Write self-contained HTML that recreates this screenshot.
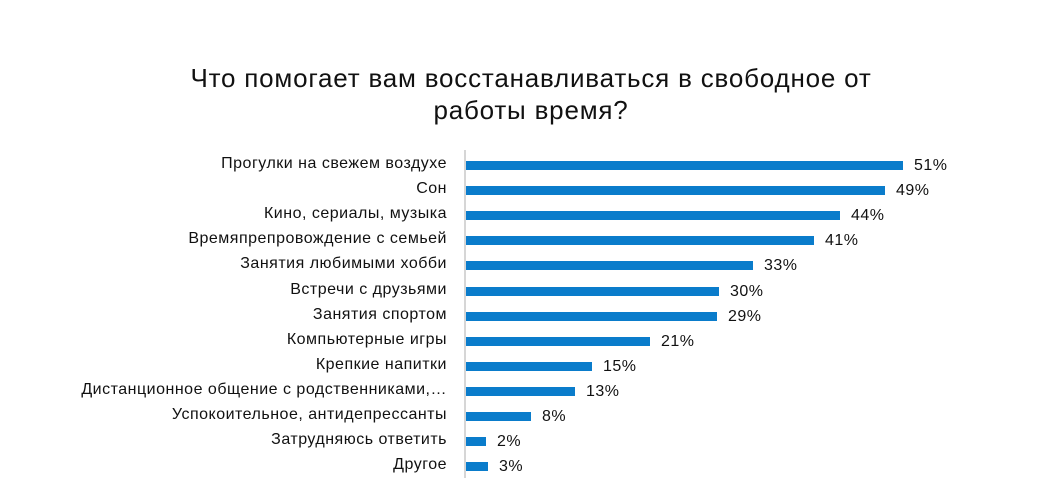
<!DOCTYPE html>
<html><head><meta charset="utf-8"><style>
body{margin:0;background:#fff;width:1041px;height:496px;overflow:hidden;font-family:"Liberation Sans",sans-serif;color:#111}
.t{position:absolute;left:0;width:1062px;text-align:center;font-size:26px;letter-spacing:0.8px;line-height:32px;top:62px}
.r{position:absolute;height:20px;line-height:20px;font-size:16px;letter-spacing:0.5px}
.l{position:absolute;right:594px;white-space:nowrap;text-align:right}
.b{position:absolute;left:466px;height:9px;top:6px;background:#0a7ccb}
.v{position:absolute;white-space:nowrap}
.ax{position:absolute;left:464px;top:150px;width:2px;height:328px;background:#d6d6d6}
</style></head><body>
<div class="t">Что помогает вам восстанавливаться в свободное от<br>работы время?</div>
<div class="ax"></div>
<div id="c"></div>
<script>
var d=[["Прогулки на свежем воздухе",437,"51%"],["Сон",419,"49%"],["Кино, сериалы, музыка",374,"44%"],["Времяпрепровождение с семьей",348,"41%"],["Занятия любимыми хобби",287,"33%"],["Встречи с друзьями",253,"30%"],["Занятия спортом",251,"29%"],["Компьютерные игры",184,"21%"],["Крепкие напитки",126,"15%"],["Дистанционное общение с родственниками,…",109,"13%"],["Успокоительное, антидепрессанты",65,"8%"],["Затрудняюсь ответить",20,"2%"],["Другое",22,"3%"]];
var h="";d.forEach(function(x,i){var y=154+i*25.1;
h+='<div class="r" style="top:'+y+'px;left:0;width:1041px"><span class="l">'+x[0]+'</span><div class="b" style="width:'+x[1]+'px;top:7px"></div><span class="v" style="left:'+(466+x[1]+11)+'px;top:2px">'+x[2]+'</span></div>';});
document.getElementById("c").innerHTML=h;
</script>
</body></html>
